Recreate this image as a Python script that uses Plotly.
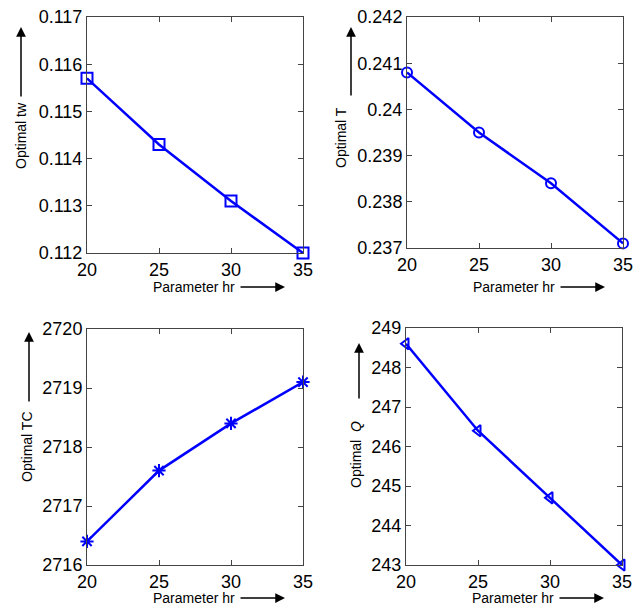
import plotly.graph_objects as go

hr = [20, 25, 30, 35]
tw = [0.1157, 0.1143, 0.1131, 0.1120]
T = [0.2408, 0.2395, 0.2384, 0.2371]
TC = [2716.4, 2717.6, 2718.4, 2719.1]
Q = [248.6, 246.4, 244.7, 243.0]

tw_ticks = [0.112, 0.113, 0.114, 0.115, 0.116, 0.117]
tw_text = ["0.112", "0.113", "0.114", "0.115", "0.116", "0.117"]
T_ticks = [0.237, 0.238, 0.239, 0.240, 0.241, 0.242]
T_text = ["0.237", "0.238", "0.239", "0.24", "0.241", "0.242"]
TC_ticks = [2716, 2717, 2718, 2719, 2720]
Q_ticks = [243, 244, 245, 246, 247, 248, 249]

# The page body has an 8px margin, so the figure is sized to fit the window.
OFF = 8
W, H = 642 - 2 * OFF, 613 - 2 * OFF
BLUE = "#0000ff"
FONT = "Liberation Sans, Arial, sans-serif"


def px(xp):
    return (xp - OFF) / W


def py(yp):
    return 1 - (yp - OFF) / H


panels = [
    dict(y=tw, sym="square-open", size=11, tv=tw_ticks, tt=tw_text,
         box=(87, 303, 17, 253), ylab="Optimal tw"),
    dict(y=T, sym="circle-open", size=10, tv=T_ticks, tt=T_text,
         box=(407, 623, 17, 248), ylab="Optimal T"),
    dict(y=TC, sym="asterisk-open", size=11, tv=TC_ticks, tt=[str(v) for v in TC_ticks],
         box=(87, 303, 329, 565), ylab="Optimal TC"),
    dict(y=Q, sym="triangle-left-open", size=10, tv=Q_ticks, tt=[str(v) for v in Q_ticks],
         box=(406, 622, 328, 565), ylab="Optimal  <i>Q</i>"),
]

fig = go.Figure()
annotations = []
for i, p in enumerate(panels, start=1):
    x0, x1, y0, y1 = p["box"]
    xa = "x" if i == 1 else f"x{i}"
    ya = "y" if i == 1 else f"y{i}"
    fig.add_trace(go.Scatter(
        x=hr, y=p["y"], mode="lines+markers",
        line=dict(color=BLUE, width=2.5),
        marker=dict(symbol=p["sym"], size=p["size"], color=BLUE,
                    line=dict(color=BLUE, width=2)),
        xaxis=xa, yaxis=ya, showlegend=False, cliponaxis=False,
    ))
    common = dict(showline=True, linecolor="#444", linewidth=1, mirror="ticks",
                  ticks="inside", ticklen=5, tickcolor="#444", showgrid=False,
                  zeroline=False, automargin=False, ticklabeloverflow="allow",
                  tickfont=dict(family=FONT, size=18, color="black"))
    xkey = "xaxis" if i == 1 else f"xaxis{i}"
    ykey = "yaxis" if i == 1 else f"yaxis{i}"
    lo, hi = p["tv"][0], p["tv"][-1]
    eps = (hi - lo) * 1e-6
    fig.update_layout(**{
        xkey: dict(domain=[px(x0), px(x1)], anchor=ya, range=[20, 35],
                   tickvals=hr, ticklabelstandoff=0, **common),
        ykey: dict(domain=[py(y1), py(y0)], anchor=xa, range=[lo - eps, hi + eps],
                   tickvals=p["tv"], ticktext=p["tt"],
                   ticklabelstandoff=0, **common),
    })
    # x-axis label and arrow
    lab_y = 287 if i <= 2 else 598
    annotations.append(dict(text="Parameter hr", x=px(x0 + 107), y=py(lab_y),
                            xref="paper", yref="paper", showarrow=False,
                            xanchor="center", yanchor="middle",
                            font=dict(family=FONT, size=14, color="black")))
    annotations.append(dict(text="", x=px(x0 + 198), y=py(lab_y),
                            xref="paper", yref="paper", showarrow=True,
                            ax=-46, ay=0, arrowhead=2, arrowsize=1.3, arrowwidth=1.5,
                            arrowcolor="black"))
    # y-axis label and arrow
    lx = {1: 21, 2: 341, 3: 27, 4: 356}[i]
    ly_center = {1: 136, 2: 138, 3: 447, 4: 455}[i]
    annotations.append(dict(text=p["ylab"], x=px(lx), y=py(ly_center),
                            xref="paper", yref="paper", showarrow=False, textangle=-90,
                            xanchor="center", yanchor="middle",
                            font=dict(family=FONT, size=14, color="black")))
    ax_x = {1: 21, 2: 351, 3: 29, 4: 359}[i]
    head_top, tail = {1: (27, 98), 2: (27, 97), 3: (332, 403), 4: (343, 400)}[i]
    annotations.append(dict(text="", x=px(ax_x), y=py(head_top),
                            xref="paper", yref="paper", showarrow=True,
                            ax=0, ay=tail - head_top, arrowhead=2, arrowsize=1.3,
                            arrowwidth=1.5, arrowcolor="black"))

fig.update_layout(width=W, height=H, margin=dict(l=0, r=0, t=0, b=0),
                  plot_bgcolor="white", paper_bgcolor="white",
                  annotations=annotations)
fig.write_html("out.html")
